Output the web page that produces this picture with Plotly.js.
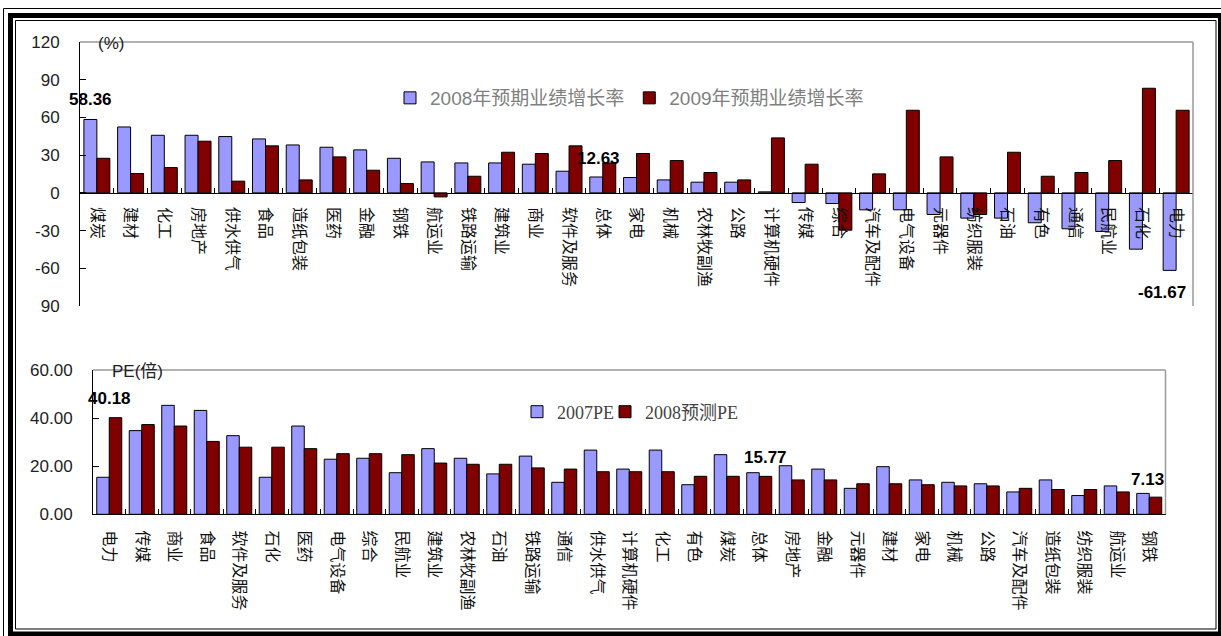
<!DOCTYPE html>
<html>
<head>
<meta charset="utf-8">
<script src="https://cdn.plot.ly/plotly-3.0.1.min.js"></script>
<style>html,body{margin:0;padding:0;background:#fff;}#chart{width:1221px;height:636px;}</style>
</head>
<body>
<div id="chart"></div>
<script>
// ---- Top chart: expected earnings growth (%) ----
const catsTop = ["煤炭","建材","化工","房地产","供水供气","食品","造纸包装","医药","金融","钢铁","航运业","铁路运输","建筑业","商业","软件及服务","总体","家电","机械","农林牧副渔","公路","计算机硬件","传媒","综合","汽车及配件","电气设备","元器件","纺织服装","石油","有色","通信","民航业","石化","电力"];
const growth2008 = [58.36,52.4,45.8,45.8,44.8,42.9,38.1,36.3,34.2,27.5,24.6,23.8,23.8,22.8,17.2,12.63,12.2,10.3,8.5,8.5,0.8,-7.7,-8.5,-13.5,-13.5,-17.2,-20.1,-20.1,-23.8,-28.6,-30.7,-44.8,-61.67];
const growth2009 = [27.5,15.4,20.1,41.1,9.3,37.4,10.3,28.6,18.0,7.4,-3.2,13.2,32.3,31.3,37.4,23.8,31.3,25.7,16.2,10.3,43.7,22.8,-29.7,15.1,65.7,28.6,-17.2,32.3,13.2,16.2,25.7,83.2,65.7];
const topTickVals = [120,90,60,30,0,-30,-60,-90];
const topTickText = ["120","90","60","30","0","-30","-60","90"];

// ---- Bottom chart: PE (times) ----
const catsBottom = ["电力","传媒","商业","食品","软件及服务","石化","医药","电气设备","综合","民航业","建筑业","农林牧副渔","石油","铁路运输","通信","供水供气","计算机硬件","化工","有色","煤炭","总体","房地产","金融","元器件","建材","家电","机械","公路","汽车及配件","造纸包装","纺织服装","航运业","钢铁"];
const pe2007 = [15.4,34.8,45.3,43.2,32.7,15.4,36.7,22.9,23.3,17.3,27.3,23.3,16.8,24.2,13.3,26.7,18.8,26.7,12.3,24.8,17.3,20.2,18.8,10.8,19.8,14.3,13.3,12.7,9.3,14.3,7.8,11.8,8.7];
const pe2008 = [40.18,37.3,36.7,30.3,27.9,27.9,27.3,25.2,25.2,24.8,21.3,20.8,20.8,19.3,18.8,17.7,17.7,17.7,15.8,15.8,15.77,14.3,14.3,12.7,12.7,12.3,11.8,11.8,10.8,10.3,10.3,9.3,7.13];
const botTickVals = [0,20,40,60];
const botTickText = ["0.00","20.00","40.00","60.00"];

const seriesNames = ["2008年预期业绩增长率","2009年预期业绩增长率","2007PE","2008预测PE"];

const W = 1221, H = 636;
const px = x => x / W;
const py = y => 1 - y / H;

const BLUE = "#9999FF", RED = "#800000";
const CJK = "Noto Sans CJK SC";

const yTopDom = [py(306), py(42)];
const yTopRange = [-90, 120];
const zeroPos = yTopDom[0] + (0 - yTopRange[0]) / (yTopRange[1] - yTopRange[0]) * (yTopDom[1] - yTopDom[0]);

const barLine = {color: "#000", width: 1};
const traces = [
  {type: "bar", x: catsTop, y: growth2008, name: seriesNames[0], xaxis: "x", yaxis: "y",
   marker: {color: BLUE, line: barLine}, legend: "legend", hoverinfo: "x+y"},
  {type: "bar", x: catsTop, y: growth2009, name: seriesNames[1], xaxis: "x", yaxis: "y",
   marker: {color: RED, line: barLine}, legend: "legend", hoverinfo: "x+y"},
  {type: "bar", x: catsBottom, y: pe2007, name: seriesNames[2], xaxis: "x2", yaxis: "y2",
   marker: {color: BLUE, line: barLine}, legend: "legend2", hoverinfo: "x+y"},
  {type: "bar", x: catsBottom, y: pe2008, name: seriesNames[3], xaxis: "x2", yaxis: "y2",
   marker: {color: RED, line: barLine}, legend: "legend3", hoverinfo: "x+y"}
];

const xCommon = {
  type: "category", showline: true, linecolor: "#000", linewidth: 1, automargin: false,
  ticks: "inside", ticklen: 5, tickcolor: "#000", tickson: "boundaries",
  tickangle: 90, tickfont: {family: CJK, size: 16, color: "#111"},
  showgrid: false, zeroline: false, fixedrange: true
};
const yCommon = {
  showline: true, linecolor: "#000", linewidth: 1, ticks: "inside", ticklen: 6, tickcolor: "#000",
  tickfont: {family: "Liberation Sans, Arial", size: 17, color: "#222"}, automargin: false,
  showgrid: false, zeroline: false, fixedrange: true, ticklabelstandoff: 16
};

function label(text, xref, yref, x, y, xshift, yshift, size) {
  return {text: "<b>" + text + "</b>", xref: xref, yref: yref, x: x, y: y, xshift: xshift, yshift: yshift,
    xanchor: "center", yanchor: "middle", showarrow: false,
    font: {family: "Liberation Sans, Arial", size: size || 17, color: "#000"}};
}
const fmt = v => v.toFixed(2);

const annotations = [
  label(fmt(growth2008[0]), "x", "y", catsTop[0], growth2008[0], -6, 20),
  label(fmt(growth2008[15]), "x", "y", catsTop[15], growth2008[15], -4, 18),
  label(fmt(growth2008[32]), "x", "y", catsTop[32], growth2008[32], -14, -22),
  label(fmt(pe2008[0]), "x2", "y2", catsBottom[0], pe2008[0], 0, 19),
  label(fmt(pe2008[20]), "x2", "y2", catsBottom[20], pe2008[20], 6, 19),
  label(fmt(pe2008[32]), "x2", "y2", catsBottom[32], pe2008[32], -2, 18),
  {text: "(%)", xref: "paper", yref: "paper", x: px(111), y: py(43), xanchor: "center", yanchor: "middle",
   showarrow: false, font: {family: "Liberation Sans, Arial", size: 17, color: "#222"}},
  {text: "PE(倍)", xref: "paper", yref: "paper", x: px(137), y: py(371), xanchor: "center", yanchor: "middle",
   showarrow: false, font: {family: "Liberation Sans, " + CJK, size: 17, color: "#222"}}
];

const gray = {color: "#999", width: 1.5};
const shapes = [
  // plot-area borders (top and right) in gray
  {type: "line", xref: "x domain", yref: "y domain", x0: 0, x1: 1, y0: 1, y1: 1, line: gray},
  {type: "line", xref: "x domain", yref: "y domain", x0: 1, x1: 1, y0: 0, y1: 1, line: gray},
  {type: "line", xref: "x2 domain", yref: "y2 domain", x0: 0, x1: 1, y0: 1, y1: 1, line: gray},
  {type: "line", xref: "x2 domain", yref: "y2 domain", x0: 1, x1: 1, y0: 0, y1: 1, line: gray},
  // frame
  {type: "rect", xref: "paper", yref: "paper", x0: px(3.5), x1: px(1240), y0: py(8.5), y1: py(660),
   line: {color: "#000", width: 1}},
  {type: "rect", xref: "paper", yref: "paper", x0: px(10.5), x1: px(1220.5), y0: py(15.5), y1: py(634),
   line: {color: "#000", width: 5}},
  {type: "rect", xref: "paper", yref: "paper", x0: px(15.5), x1: px(1216), y0: py(20.5), y1: py(629),
   line: {color: "#000", width: 1}}
];

const peLegendFont = {family: "Liberation Serif, " + CJK, size: 18, color: "#444"};

const layout = {
  width: W, height: H,
  margin: {l: 0, r: 0, t: 0, b: 0, pad: 0, autoexpand: false},
  paper_bgcolor: "#fff", plot_bgcolor: "rgba(0,0,0,0)",
  barmode: "group", bargap: 0.23, bargroupgap: 0,
  xaxis: Object.assign({}, xCommon, {domain: [px(80), px(1193)], range: [-0.5, catsTop.length - 0.5],
    anchor: "free", position: zeroPos, ticklabelstandoff: 10}),
  yaxis: Object.assign({}, yCommon, {domain: yTopDom, range: yTopRange, tickvals: topTickVals, ticktext: topTickText, anchor: "x"}),
  xaxis2: Object.assign({}, xCommon, {domain: [px(93), px(1165.5)], range: [-0.5, catsBottom.length - 0.5],
    anchor: "y2", ticklabelstandoff: 12}),
  yaxis2: Object.assign({}, yCommon, {domain: [py(514.3), py(370)], range: [0, 60], tickvals: botTickVals, ticktext: botTickText, anchor: "x2"}),
  showlegend: true,
  legend: {orientation: "h", x: px(390), y: py(98), xanchor: "left", yanchor: "middle",
    bgcolor: "rgba(0,0,0,0)", itemwidth: 30, traceorder: "normal",
    font: {family: "Liberation Sans, " + CJK, size: 19, color: "#808080"}},
  legend2: {orientation: "h", x: px(517), y: py(412), xanchor: "left", yanchor: "middle",
    bgcolor: "rgba(0,0,0,0)", itemwidth: 30, font: peLegendFont},
  legend3: {orientation: "h", x: px(605), y: py(412), xanchor: "left", yanchor: "middle",
    bgcolor: "rgba(0,0,0,0)", itemwidth: 30, font: peLegendFont},
  annotations: annotations,
  shapes: shapes
};

Plotly.newPlot("chart", traces, layout, {displayModeBar: false, staticPlot: true});
</script>
</body>
</html>
